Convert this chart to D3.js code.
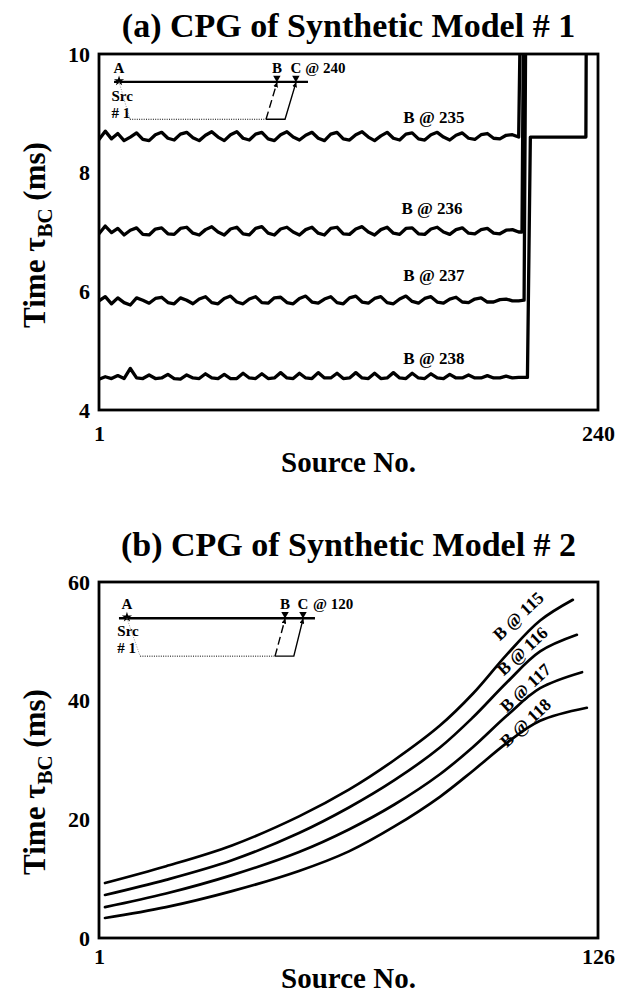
<!DOCTYPE html>
<html><head><meta charset="utf-8">
<script src="https://cdn.jsdelivr.net/npm/d3@7"></script>
<style>
html,body{margin:0;padding:0;background:#fff;}
svg{display:block;}
</style></head><body>
<svg id="chart" width="631" height="993"></svg>
<script>
// ---------------- DATA: panel (a) ----------------
const sourcesA = [1,4,7,10,13,16,19,22,25,28, 31,34,37,40,43,46,49,52,55,58,
  61,64,67,70,73,76,79,82,85,88, 91,94,97,100,103,106,109,112,115,118,
  121,124,127,130,133,136,139,142,145,148, 151,154,157,160,163,166,169,172,175,178,
  181,184,187,190,193,196,199,202];
const valuesA235 = [8.56,8.70,8.57,8.66,8.54,8.60,8.67,8.56,8.54,8.64,
  8.68,8.58,8.55,8.65,8.68,8.59,8.54,8.63,8.69,8.60,
  8.54,8.64,8.69,8.58,8.55,8.65,8.68,8.57,8.54,8.64,
  8.69,8.60,8.55,8.63,8.68,8.58,8.54,8.65,8.68,8.57,
  8.55,8.64,8.69,8.60,8.54,8.62,8.68,8.58,8.55,8.65,
  8.67,8.57,8.55,8.64,8.68,8.60,8.55,8.63,8.67,8.58,
  8.56,8.64,8.66,8.58,8.57,8.63,8.64,8.60];
const valuesA236 = [6.97,7.10,6.99,7.06,6.95,7.03,7.07,6.96,6.95,7.05,
  7.07,6.97,6.96,7.06,7.08,6.98,6.95,7.04,7.09,7.00,
  6.95,7.05,7.08,6.97,6.95,7.06,7.09,6.98,6.95,7.05,
  7.08,7.00,6.95,7.04,7.08,6.98,6.95,7.06,7.08,6.97,
  6.96,7.05,7.09,7.00,6.95,7.04,7.08,6.98,6.96,7.06,
  7.07,6.97,6.96,7.05,7.08,7.00,6.96,7.04,7.07,6.98,
  6.97,7.04,7.06,6.98,6.97,7.03,7.04,7.00];
const valuesA237 = [5.84,5.91,5.79,5.89,5.81,5.77,5.89,5.85,5.80,5.88,
  5.90,5.81,5.79,5.89,5.85,5.79,5.87,5.91,5.81,5.79,
  5.88,5.92,5.82,5.79,5.87,5.91,5.81,5.80,5.89,5.90,
  5.81,5.79,5.88,5.92,5.82,5.80,5.87,5.91,5.81,5.79,
  5.89,5.92,5.82,5.80,5.88,5.91,5.81,5.79,5.87,5.92,
  5.83,5.80,5.88,5.91,5.82,5.80,5.87,5.90,5.82,5.81,
  5.87,5.89,5.82,5.82,5.86,5.87,5.84,5.84];
const valuesA238 = [4.52,4.56,4.53,4.58,4.53,4.70,4.54,4.53,4.59,4.53,
  4.54,4.60,4.53,4.52,4.59,4.54,4.53,4.61,4.54,4.53,
  4.60,4.53,4.53,4.62,4.54,4.53,4.61,4.53,4.54,4.63,
  4.54,4.53,4.62,4.54,4.53,4.63,4.54,4.54,4.62,4.53,
  4.54,4.63,4.54,4.53,4.62,4.53,4.54,4.63,4.54,4.53,
  4.62,4.54,4.53,4.61,4.54,4.53,4.60,4.54,4.54,4.59,
  4.54,4.54,4.58,4.54,4.54,4.57,4.54,4.55];
// steep rise at the end of each curve (values above 10 run off the top)
const jumpA235 = [[202.8,10.6]];
const jumpA236 = [[203.6,7.0],[204.3,10.6]];
const jumpA237 = [[204.6,5.85],[205.4,10.6]];
const jumpA238 = [[206.2,4.55],[207.6,8.6],[234.2,8.6],[234.4,10.6]];
const labelsA = ["B @ 235","B @ 236","B @ 237","B @ 238"];
const labelSourceA = [161.4,160.5,161.4,161.4];
const labelTimeA = [8.94,7.40,6.28,4.88];
const yTicksA = [4,6,8,10];
const xTicksA = [1,240];

// ---------------- DATA: panel (b) ----------------
const curveB115 = [[2.5,9.27],[17.8,12.1],[34.3,15.6],[51.1,20.5],[63.6,25.0],[75,30.0],[86.4,35.8],[94.7,41.2],[103.2,47.8],[111.5,53.5],[119.7,57.0]];
const curveB116 = [[2.5,7.25],[17.8,9.8],[34.3,13.1],[51.1,17.7],[63.6,22.0],[75,26.6],[86.4,32.1],[94.7,37.2],[103.2,43.1],[111.5,48.3],[120.7,51.1]];
const curveB117 = [[2.5,5.2],[17.8,7.5],[34.3,10.6],[51.1,14.5],[63.6,18.3],[75,22.5],[86.4,27.6],[94.7,32.2],[103.2,37.5],[111.5,42.1],[122,44.8]];
const curveB118 = [[2.5,3.37],[17.8,5.2],[34.3,7.9],[51.1,11.3],[63.6,14.6],[75,18.8],[86.4,23.8],[94.7,28.2],[103.2,32.9],[111.5,36.6],[123.2,38.8]];
const labelsB = ["B @ 115","B @ 116","B @ 117","B @ 118"];
const labelSourceB = [106.0,107.0,107.8,107.8];
const labelTimeB = [54.3,48.4,42.2,36.3];
const yTicksB = [0,20,40,60];
const xTicksB = [1,126];

// inset schematic, in data units of each panel
const insetA = {lineS:[8.2,101.1], lineT:9.53, aS:10.6, bS:86.2, cS:95.3, textT:9.68,
  srcS:7.0, srcT:9.21, numT:8.92, baseT:8.90, dotS:15.8, dashS:81.0, cornerS:90.1, atS:99.8, at:"@ 240"};
const insetB = {lineS:[6.0,55.1], lineT:53.9, aS:8.0, bS:47.6, cS:52.1, textT:55.5,
  srcS:5.6, srcT:50.9, numT:48.0, baseT:47.5, dotS:11.3, dashS:45.1, cornerS:49.8, atS:54.6, at:"@ 120"};

// ---------------- DRAWING ----------------
const FONT = '"Liberation Serif","Times New Roman",Times,serif';
const svg = d3.select("#chart").style("font-family", FONT).style("font-weight","bold");
const defs = svg.append("defs");
defs.append("marker").attr("id","arr").attr("viewBox","0 -4 8 8").attr("refX",7).attr("refY",0)
  .attr("markerWidth",5).attr("markerHeight",5).attr("markerUnits","userSpaceOnUse").attr("orient","auto")
  .append("path").attr("d","M0,-4L8,0L0,4Z").attr("fill","#000");

function drawPanel(p) {
  const g = svg.append("g");
  const x = d3.scaleLinear().domain(p.xDomain).range([p.left, p.right]);
  const y = d3.scaleLinear().domain(p.yDomain).range([p.bottom, p.top]);
  defs.append("clipPath").attr("id","clip"+p.id).append("rect")
    .attr("x",p.left).attr("y",p.top).attr("width",p.right-p.left).attr("height",p.bottom-p.top);

  const line = d3.line().x(d=>x(d[0])).y(d=>y(d[1])).curve(p.curve);
  g.append("g").attr("clip-path",`url(#clip${p.id})`)
    .selectAll("path").data(p.series).join("path")
    .attr("d", d=>line(d)).attr("fill","none").attr("stroke","#000")
    .attr("stroke-width",p.lw).attr("stroke-linejoin","round").attr("stroke-linecap","round");

  // curve labels
  g.selectAll("text.lab").data(p.labels).join("text").attr("class","lab")
    .attr("transform",(d,i)=>`translate(${x(p.labelS[i])},${y(p.labelT[i])}) rotate(${p.labelRot})`)
    .attr("text-anchor","middle").attr("dy","0.35em").attr("font-size",p.labelSize).text(d=>d);

  // frame
  g.append("rect").attr("x",p.left).attr("y",p.top).attr("width",p.right-p.left).attr("height",p.bottom-p.top)
    .attr("fill","none").attr("stroke","#000").attr("stroke-width",2.8);

  // axes
  const ay = g.append("g").attr("transform",`translate(${p.left},0)`)
    .call(d3.axisLeft(y).tickValues(p.yTicks).tickSize(0).tickPadding(9).tickFormat(d3.format("d")));
  ay.select(".domain").remove();
  ay.attr("font-family",FONT).attr("font-size",22).attr("font-weight","bold");
  ay.selectAll("text").attr("fill","#000");
  const ax = g.append("g").attr("transform",`translate(0,${p.bottom})`)
    .call(d3.axisBottom(x).tickValues(p.xTicks).tickSize(0).tickPadding(p.xPad).tickFormat(d3.format("d")));
  ax.select(".domain").remove();
  ax.attr("font-family",FONT).attr("font-size",22).attr("font-weight","bold");
  ax.selectAll("text").attr("fill","#000");

  // titles
  const cx = (p.left+p.right)/2;
  g.append("text").attr("x",cx).attr("y",p.titleY).attr("text-anchor","middle")
    .attr("font-size",34).text(p.title);
  g.append("text").attr("x",cx).attr("y",p.bottom+p.xLabelOff).attr("text-anchor","middle")
    .attr("font-size",29).text("Source No.");
  const yl = g.append("text").attr("transform",`translate(45,${p.ylabelY}) rotate(-90)`)
    .attr("text-anchor","middle").attr("font-size",31);
  yl.append("tspan").text("Time \u03c4");
  yl.append("tspan").attr("font-size",21).attr("dy",7).text("BC");
  yl.append("tspan").attr("dy",-7).text(" (ms)");

  // inset schematic
  const s = p.inset;
  const ig = g.append("g");
  ig.append("line").attr("x1",x(s.lineS[0])).attr("x2",x(s.lineS[1])).attr("y1",y(s.lineT)).attr("y2",y(s.lineT))
    .attr("stroke","#000").attr("stroke-width",2.4);
  ig.append("path").attr("d",d3.symbol(d3.symbolStar,32)()).attr("transform",`translate(${x(s.aS)},${y(s.lineT)-1})`).attr("fill","#000");
  [s.bS,s.cS].forEach(v=>{
    ig.append("path").attr("d",d3.symbol(d3.symbolTriangle,24)())
      .attr("transform",`translate(${x(v)},${y(s.lineT)-4}) rotate(180)`).attr("fill","#000");
  });
  const tx = (v,t,str,anchor)=>ig.append("text").attr("x",x(v)).attr("y",y(t)).attr("text-anchor",anchor||"middle")
    .attr("font-size",15).text(str);
  tx(s.aS,s.textT,"A"); tx(s.bS,s.textT,"B"); tx(s.cS,s.textT,"C"); tx(s.atS,s.textT,s.at,"start");
  tx(s.srcS,s.srcT,"Src","start"); tx(s.srcS,s.numT,"# 1","start");
  ig.append("line").attr("x1",x(s.aS)).attr("y1",y(s.lineT)).attr("x2",x(s.dotS)).attr("y2",y(s.baseT))
    .attr("stroke","#777").attr("stroke-width",0.8).attr("stroke-dasharray","1,1.5");
  ig.append("line").attr("x1",x(s.dotS)).attr("y1",y(s.baseT)).attr("x2",x(s.dashS)).attr("y2",y(s.baseT))
    .attr("stroke","#000").attr("stroke-width",1).attr("stroke-dasharray","1,1.3");
  ig.append("line").attr("x1",x(s.dashS)).attr("y1",y(s.baseT)).attr("x2",x(s.bS)).attr("y2",y(s.lineT)+1)
    .attr("stroke","#000").attr("stroke-width",1.4).attr("stroke-dasharray","8,4").attr("marker-end","url(#arr)");
  ig.append("path").attr("d",`M${x(s.dashS)},${y(s.baseT)}L${x(s.cornerS)},${y(s.baseT)}L${x(s.cS)},${y(s.lineT)+1}`)
    .attr("fill","none").attr("stroke","#000").attr("stroke-width",1.4).attr("marker-end","url(#arr)");
}

const seriesA = [
  sourcesA.map((s,i)=>[s,valuesA235[i]]).concat(jumpA235),
  sourcesA.map((s,i)=>[s,valuesA236[i]]).concat(jumpA236),
  sourcesA.map((s,i)=>[s,valuesA237[i]]).concat(jumpA237),
  sourcesA.map((s,i)=>[s,valuesA238[i]]).concat(jumpA238)
];

drawPanel({id:"a", xDomain:[1,240], yDomain:[4,10], left:99, right:598, top:54, bottom:410,
  series:seriesA, curve:d3.curveLinear, lw:3.3,
  labels:labelsA, labelS:labelSourceA, labelT:labelTimeA, labelRot:0, labelSize:17,
  yTicks:yTicksA, xTicks:xTicksA, xPad:15, xLabelOff:62,
  title:"(a) CPG of Synthetic Model # 1", titleY:37, ylabelY:235, inset:insetA});

drawPanel({id:"b", xDomain:[1,126], yDomain:[0,60], left:99, right:598, top:582, bottom:938,
  series:[curveB115,curveB116,curveB117,curveB118], curve:d3.curveCatmullRom, lw:2.7,
  labels:labelsB, labelS:labelSourceB, labelT:labelTimeB, labelRot:-43, labelSize:17.5,
  yTicks:yTicksB, xTicks:xTicksB, xPad:10, xLabelOff:50,
  title:"(b) CPG of Synthetic Model # 2", titleY:556, ylabelY:782, inset:insetB});
</script></body></html>
